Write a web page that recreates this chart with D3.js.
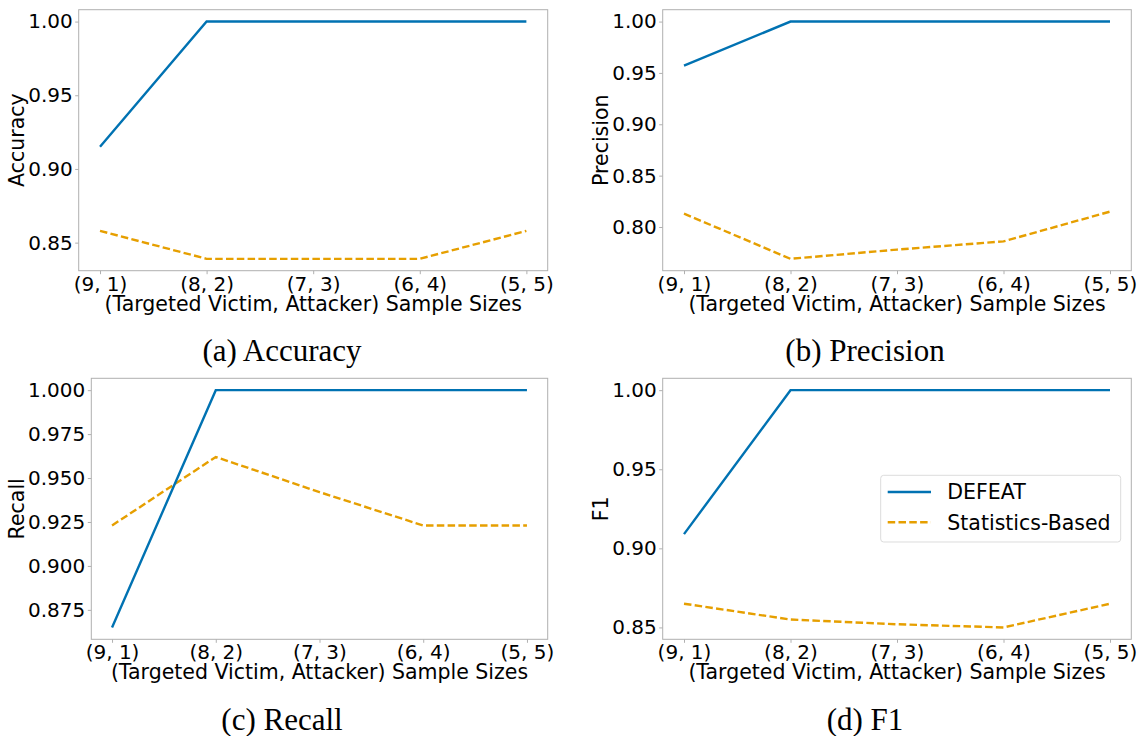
<!DOCTYPE html>
<html>
<head>
<meta charset="utf-8">
<script src="https://cdn.jsdelivr.net/npm/d3@7"></script>
<style>
  body { margin: 0; background: #fff; }
  svg { display: block; }
</style>
</head>
<body>
<svg id="fig" width="1145" height="736"></svg>
<script>
// ---- data ----
const categories = ["(9, 1)", "(8, 2)", "(7, 3)", "(6, 4)", "(5, 5)"];
const seriesNames = ["DEFEAT", "Statistics-Based"];

const accuracyDefeat = [0.915, 1.0, 1.0, 1.0, 1.0];
const accuracyStats  = [0.858, 0.839, 0.839, 0.839, 0.858];

const precisionDefeat = [0.957, 1.0, 1.0, 1.0, 1.0];
const precisionStats  = [0.813, 0.769, 0.778, 0.786, 0.815];

const recallDefeat = [0.865, 1.0, 1.0, 1.0, 1.0];
const recallStats  = [0.923, 0.962, 0.942, 0.923, 0.923];

const f1Defeat = [0.909, 1.0, 1.0, 1.0, 1.0];
const f1Stats  = [0.865, 0.855, 0.852, 0.850, 0.865];

const accuracyTicks  = [0.85, 0.90, 0.95, 1.00];
const precisionTicks = [0.80, 0.85, 0.90, 0.95, 1.00];
const recallTicks    = [0.875, 0.900, 0.925, 0.950, 0.975, 1.000];
const f1Ticks        = [0.85, 0.90, 0.95, 1.00];

const yLabels  = ["Accuracy", "Precision", "Recall", "F1"];
const captions = ["(a) Accuracy", "(b) Precision", "(c) Recall", "(d) F1"];
const xTitle   = "(Targeted Victim, Attacker) Sample Sizes";

// ---- styling / layout ----
const BLUE = "#0072B2";
const ORANGE = "#E69F00";
const SPINE = "#b0b0b0";
const SANS = "'DejaVu Sans', sans-serif";
const SERIF = "'Liberation Serif', 'DejaVu Serif', serif";
const TICK_FONT = "20px";
const LABEL_FONT = "20.5px";

const panels = [
  { defeat: accuracyDefeat, stats: accuracyStats, ticks: accuracyTicks, fmt: ".2f",
    yLabel: yLabels[0], caption: captions[0],
    left: 78.7, right: 547.7, top: 9.7, bottom: 270.7, ylabX: 24, capX: 282, capY: 361 },
  { defeat: precisionDefeat, stats: precisionStats, ticks: precisionTicks, fmt: ".2f",
    yLabel: yLabels[1], caption: captions[1],
    left: 662.7, right: 1131.3, top: 9.7, bottom: 270.7, ylabX: 608, capX: 865, capY: 361 },
  { defeat: recallDefeat, stats: recallStats, ticks: recallTicks, fmt: ".3f",
    yLabel: yLabels[2], caption: captions[2],
    left: 91.3, right: 547.7, top: 378.3, bottom: 639.3, ylabX: 24, capX: 282, capY: 729.5 },
  { defeat: f1Defeat, stats: f1Stats, ticks: f1Ticks, fmt: ".2f",
    yLabel: yLabels[3], caption: captions[3],
    left: 662.7, right: 1131.3, top: 378.3, bottom: 639.3, ylabX: 608, capX: 865, capY: 729.5,
    legend: true }
];

const svg = d3.select("#fig");
svg.append("rect").attr("width", 1145).attr("height", 736).attr("fill", "#fff");

panels.forEach(p => {
  const g = svg.append("g");

  const x = d3.scalePoint()
    .domain(categories)
    .range([p.left, p.right])
    .padding(0.2);

  const all = p.defeat.concat(p.stats);
  const lo = d3.min(all), hi = d3.max(all);
  const m = (hi - lo) * 0.05;
  const y = d3.scaleLinear()
    .domain([lo - m, hi + m])
    .range([p.bottom, p.top]);

  // y axis
  const yAxis = g.append("g")
    .attr("transform", `translate(${p.left},0)`)
    .call(d3.axisLeft(y).tickValues(p.ticks).tickFormat(d3.format(p.fmt))
      .tickSize(3.5).tickPadding(2.5));
  yAxis.select(".domain").remove();
  yAxis.selectAll(".tick line").attr("stroke", SPINE);
  yAxis.selectAll(".tick text")
    .attr("fill", "#000")
    .style("font-family", SANS)
    .style("font-size", TICK_FONT);

  // x axis
  const xAxis = g.append("g")
    .attr("transform", `translate(0,${p.bottom})`)
    .call(d3.axisBottom(x).tickSize(3.5).tickPadding(2.5));
  xAxis.select(".domain").remove();
  xAxis.selectAll(".tick line").attr("stroke", SPINE);
  xAxis.selectAll(".tick text")
    .attr("fill", "#000")
    .style("font-family", SANS)
    .style("font-size", TICK_FONT);

  // frame
  g.append("rect")
    .attr("x", p.left).attr("y", p.top)
    .attr("width", p.right - p.left).attr("height", p.bottom - p.top)
    .attr("fill", "none").attr("stroke", SPINE).attr("stroke-width", 1);

  // series
  const line = d3.line()
    .x((d, i) => x(categories[i]))
    .y(d => y(d));

  g.append("path").datum(p.stats)
    .attr("d", line)
    .attr("fill", "none").attr("stroke", ORANGE)
    .attr("stroke-width", 2.4)
    .attr("stroke-dasharray", "7.5,3.3");

  g.append("path").datum(p.defeat)
    .attr("d", line)
    .attr("fill", "none").attr("stroke", BLUE)
    .attr("stroke-width", 2.4);

  // axis titles
  g.append("text")
    .attr("transform", `translate(${p.ylabX},${(p.top + p.bottom) / 2}) rotate(-90)`)
    .attr("text-anchor", "middle")
    .style("font-family", SANS).style("font-size", LABEL_FONT)
    .text(p.yLabel);

  g.append("text")
    .attr("x", (p.left + p.right) / 2).attr("y", p.bottom + 40)
    .attr("text-anchor", "middle")
    .style("font-family", SANS).style("font-size", LABEL_FONT)
    .text(xTitle);

  // caption under each subfigure
  svg.append("text")
    .attr("x", p.capX).attr("y", p.capY)
    .attr("text-anchor", "middle")
    .style("font-family", SERIF).style("font-size", "31px")
    .text(p.caption);

  if (p.legend) {
    const lx = p.right - 250.6, ly = p.top + 97;
    const lg = g.append("g").attr("transform", `translate(${lx},${ly})`);
    lg.append("rect")
      .attr("width", 240).attr("height", 66.7)
      .attr("rx", 3).attr("ry", 3)
      .attr("fill", "#fff").attr("fill-opacity", 0.8)
      .attr("stroke", "#dcdcdc").attr("stroke-width", 1);
    const styles = [
      { color: BLUE, dash: null },
      { color: ORANGE, dash: "7.5,3.3" }
    ];
    seriesNames.forEach((name, i) => {
      const yy = 16.7 + i * 30.3;
      lg.append("line")
        .attr("x1", 7).attr("x2", 50.3)
        .attr("y1", yy).attr("y2", yy)
        .attr("stroke", styles[i].color).attr("stroke-width", 2.4)
        .attr("stroke-dasharray", styles[i].dash);
      lg.append("text")
        .attr("x", 66.6).attr("y", yy)
        .attr("dy", "0.36em")
        .style("font-family", SANS).style("font-size", LABEL_FONT)
        .text(name);
    });
  }
});
</script>
</body>
</html>
